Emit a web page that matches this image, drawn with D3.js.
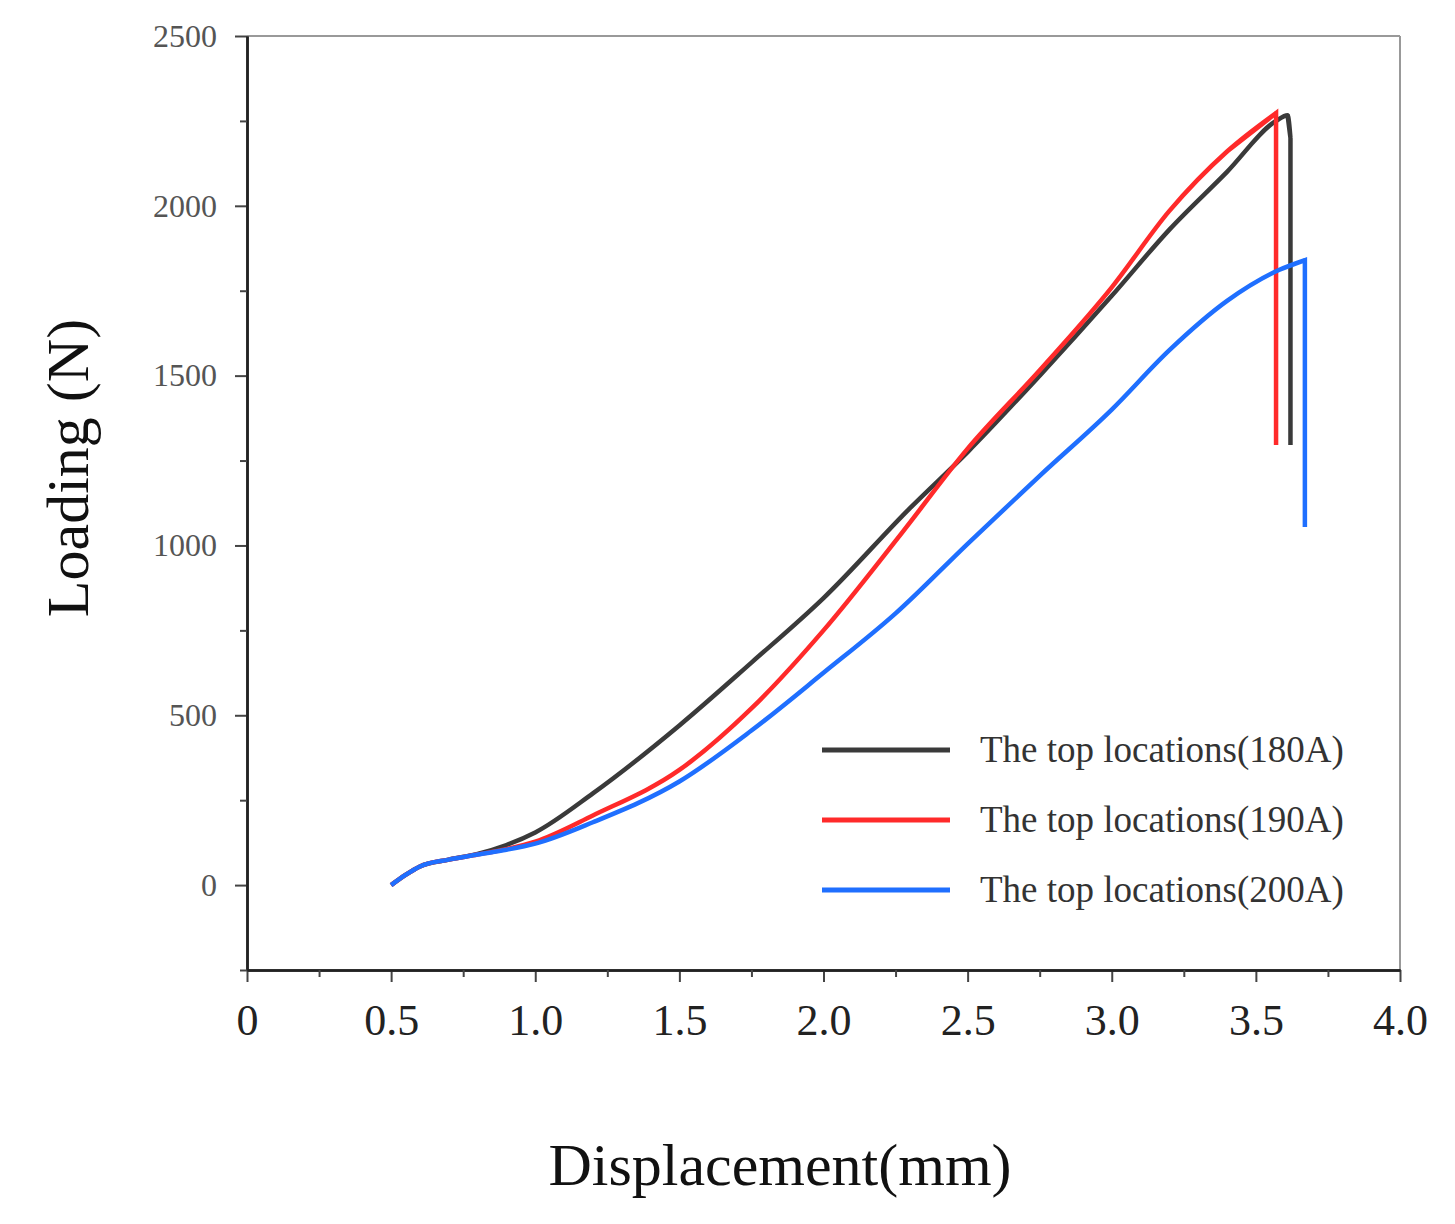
<!DOCTYPE html>
<html><head><meta charset="utf-8">
<script src="https://cdn.jsdelivr.net/npm/d3@7"></script>
<style>body{margin:0;background:#fff}</style></head>
<body><svg id="c" width="1455" height="1224"></svg>
<script>
const xTicks=[0,0.5,1.0,1.5,2.0,2.5,3.0,3.5,4.0];
const xTickLabels=["0","0.5","1.0","1.5","2.0","2.5","3.0","3.5","4.0"];
const yTicks=[0,500,1000,1500,2000,2500];
const seriesNames=["The top locations(180A)","The top locations(190A)","The top locations(200A)"];
const seriesColors=["#3a3a3a","#ff2a2a","#1f6fff"];
const s180=[[0.5,0],[0.55,30],[0.6,55],[0.7,75],[0.8,92],[0.9,118],[1.0,155],[1.2,270],[1.5,470],[1.75,655],[2.0,845],[2.3,1110],[2.5,1275],[2.75,1500],[3.0,1735],[3.2,1930],[3.4,2100],[3.57,2250],[3.61,2267],[3.62,2200],[3.62,1296]];
const s190=[[0.5,0],[0.55,30],[0.6,55],[0.7,75],[0.8,90],[0.9,106],[1.0,128],[1.2,205],[1.5,339],[1.75,520],[2.0,750],[2.27,1035],[2.5,1285],[2.75,1516],[3.0,1760],[3.2,1985],[3.4,2160],[3.57,2273],[3.57,1296]];
const s200=[[0.5,0],[0.55,30],[0.6,55],[0.7,75],[0.8,90],[0.9,104],[1.0,122],[1.2,185],[1.5,305],[1.75,455],[2.0,625],[2.25,800],[2.5,1005],[2.75,1205],[3.0,1400],[3.2,1575],[3.4,1720],[3.58,1811],[3.67,1840],[3.67,1054]];
const data=[s180,s190,s200];

const svg=d3.select("#c");
const x=d3.scaleLinear().domain([0,4]).range([247,1400]);
const y=d3.scaleLinear().domain([-250,2500]).range([970,36]);
const serif="'Liberation Serif','DejaVu Serif',serif";

svg.append("line").attr("x1",247).attr("x2",1400).attr("y1",36).attr("y2",36).attr("stroke","#999").attr("stroke-width",2);
svg.append("line").attr("x1",1400).attr("x2",1400).attr("y1",36).attr("y2",970).attr("stroke","#999").attr("stroke-width",2);

const xa=svg.append("g").attr("transform","translate(0,970)")
 .call(d3.axisBottom(x).tickValues(xTicks).tickFormat((d,i)=>xTickLabels[i]).tickSize(12).tickSizeOuter(0).tickPadding(22));
svg.append("g").attr("transform","translate(0,970)")
 .call(d3.axisBottom(x).tickValues(d3.range(0.25,4,0.5)).tickFormat("").tickSize(7).tickSizeOuter(0));
const ya=svg.append("g").attr("transform","translate(247,0)")
 .call(d3.axisLeft(y).tickValues(yTicks).tickFormat(d3.format("d")).tickSize(12).tickSizeOuter(0).tickPadding(18));
svg.append("g").attr("transform","translate(247,0)")
 .call(d3.axisLeft(y).tickValues(d3.range(-250,2500,500)).tickFormat("").tickSize(7).tickSizeOuter(0));
svg.selectAll(".domain").attr("stroke","#222").attr("stroke-width",2.5);
svg.selectAll(".tick line").attr("stroke","#444").attr("stroke-width",2);
xa.selectAll("text").attr("font-family",serif).attr("font-size",44).attr("fill","#222");
ya.selectAll("text").attr("font-family",serif).attr("font-size",32).attr("fill","#555");

const line=d3.line().x(d=>x(d[0])).y(d=>y(d[1])).curve(d3.curveMonotoneX);
const lineLin=d3.line().x(d=>x(d[0])).y(d=>y(d[1]));
data.forEach((s,i)=>{
  const body=s.slice(0,s.length-1);
  svg.append("path").attr("d",line(body.filter((d,j)=>j===0||d[0]>body[j-1][0]))+lineLin(s.slice(-3)).replace("M","L"))
   .attr("fill","none").attr("stroke",seriesColors[i]).attr("stroke-width",4.5);
});

const lg=svg.append("g");
seriesNames.forEach((n,i)=>{
  const yy=750+i*70;
  lg.append("line").attr("x1",822).attr("x2",950).attr("y1",yy).attr("y2",yy).attr("stroke",seriesColors[i]).attr("stroke-width",5);
  lg.append("text").attr("x",980).attr("y",yy+12).text(n).attr("font-family",serif).attr("font-size",37).attr("fill","#333");
});

svg.append("text").attr("transform","translate(88,468) rotate(-90)").attr("text-anchor","middle")
 .attr("font-family",serif).attr("font-size",60).attr("fill","#111").text("Loading (N)");
svg.append("text").attr("x",780).attr("y",1185).attr("text-anchor","middle")
 .attr("font-family",serif).attr("font-size",60).attr("fill","#111").text("Displacement(mm)");
</script></body></html>
